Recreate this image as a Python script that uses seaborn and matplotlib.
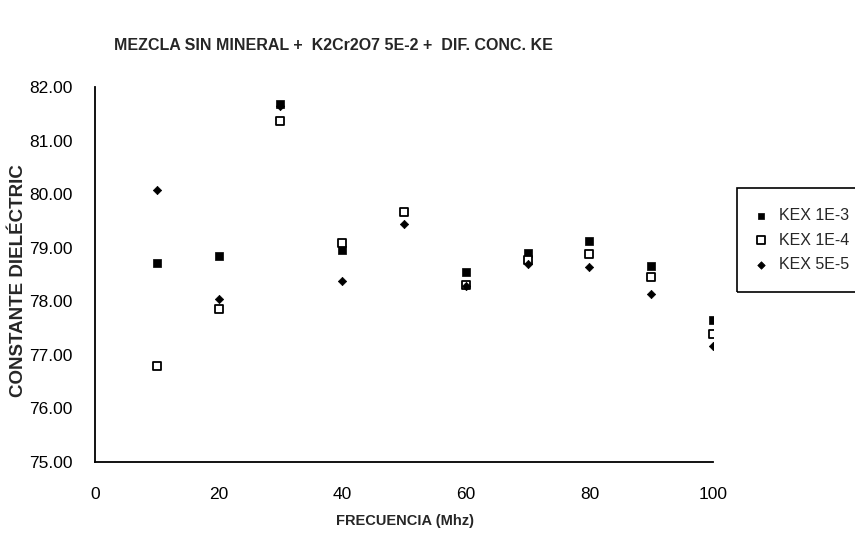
import numpy as np
import pandas as pd
import matplotlib
matplotlib.use("Agg")
import matplotlib.pyplot as plt
from matplotlib.patches import Rectangle
import seaborn as sns

sns.set_theme(style="white")
plt.rcParams["font.family"] = ["Liberation Sans", "DejaVu Sans"]

# data
freq = [10, 20, 30, 40, 50, 60, 70, 80, 90, 100]
kex_1e3 = [78.71, 78.85, 81.68, 78.96, np.nan, 78.55, 78.90, 79.13, 78.65, 77.65]
kex_1e4 = [76.79, 77.85, 81.36, 79.09, 79.66, 78.30, 78.77, 78.88, 78.45, 77.39]
kex_5e5 = [80.07, 78.04, 81.65, 78.37, 79.45, 78.28, 78.70, 78.64, 78.13, 77.17]
series_names = ["KEX 1E-3", "KEX 1E-4", "KEX 5E-5"]
y_ticks = [75, 76, 77, 78, 79, 80, 81, 82]
x_ticks = [0, 20, 40, 60, 80, 100]

df = pd.DataFrame({"freq": freq * 3,
                   "value": kex_1e3 + kex_1e4 + kex_5e5,
                   "serie": np.repeat(series_names, len(freq))})

W, H = 855, 534
fig = plt.figure(figsize=(W / 100, H / 100), dpi=100)
ax = fig.add_axes([95 / W, 1 - 462 / H, (713 - 95) / W, (462 - 87) / H])

# --- points ---
sns.scatterplot(data=df[df.serie == "KEX 1E-3"], x="freq", y="value", ax=ax,
                marker="s", s=30, color="black", edgecolor="black", linewidth=0.5,
                label="KEX 1E-3", zorder=3)
sns.scatterplot(data=df[df.serie == "KEX 1E-4"], x="freq", y="value", ax=ax,
                marker="s", s=36, facecolor="white", edgecolor="black", linewidth=1.3,
                label="KEX 1E-4", zorder=4)
sns.scatterplot(data=df[df.serie == "KEX 5E-5"], x="freq", y="value", ax=ax,
                marker="D", s=18, color="black", edgecolor="black", linewidth=0.5,
                label="KEX 5E-5", zorder=5)

# --- axes ---
ax.set_xlim(0, 100)
ax.set_ylim(75, 82)
ax.set_xticks(x_ticks)
ax.set_yticks(y_ticks)
ax.set_yticklabels([f"{v:.2f}" for v in y_ticks])
for side in ["top", "right"]:
    ax.spines[side].set_visible(False)
for side in ["left", "bottom"]:
    ax.spines[side].set_color("black")
    ax.spines[side].set_linewidth(1.3)
ax.tick_params(axis="both", direction="inout", length=8, width=1.1, colors="black",
               labelsize=12.5)
ax.tick_params(axis="x", pad=14)
ax.tick_params(axis="y", pad=12)
ax.grid(False)
ax.set_xlabel("")
ax.set_ylabel("")

fig.text(405 / W, 1 - 521 / H, "FRECUENCIA (Mhz)", ha="center", va="center",
         fontsize=10.5, fontweight="bold")
fig.text(19 / W, 1 - 281 / H, "CONSTANTE DIELÉCTRIC", ha="center", va="center",
         rotation=90, fontsize=13.5, fontweight="bold")
fig.text(333 / W, 1 - 45 / H, "MEZCLA SIN MINERAL +  K2Cr2O7 5E-2 +  DIF. CONC. KE",
         ha="center", va="center", fontsize=11.5, fontweight="bold")

# legend box runs past the right edge, like the scan
fig.patches.append(Rectangle((737 / W, 1 - 292 / H), 0.2, 104 / H,
                             transform=fig.transFigure, fill=False,
                             edgecolor="black", linewidth=1.2))
ax.legend(loc="upper left", bbox_to_anchor=(737 / W, 1 - 192 / H),
          bbox_transform=fig.transFigure, frameon=False, fontsize=11.5,
          labelspacing=0.6, handlelength=1.0, handletextpad=0.6,
          borderpad=0.5, markerscale=0.9)

fig.savefig("out.png", dpi=100)
plt.close(fig)
